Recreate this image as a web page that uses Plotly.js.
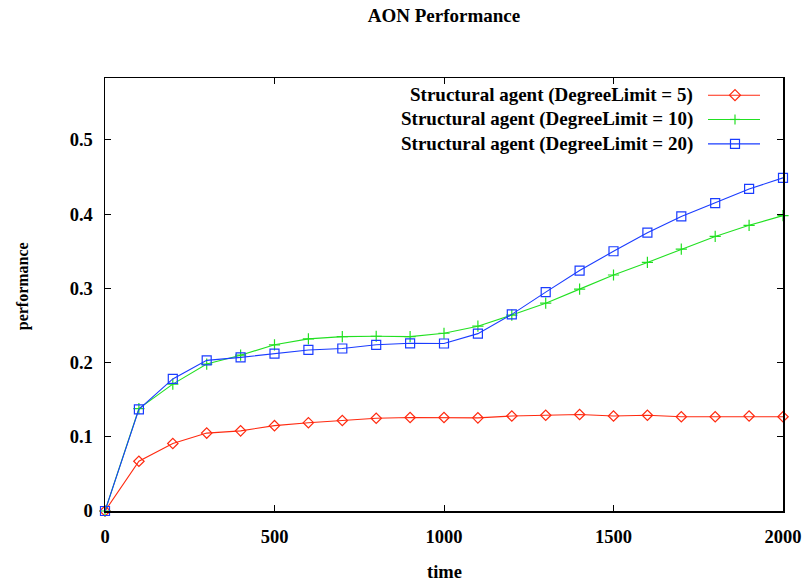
<!DOCTYPE html>
<html>
<head>
<meta charset="utf-8">
<script src="https://cdn.plot.ly/plotly-3.0.1.min.js"></script>
<style>html,body{margin:0;padding:0;background:#fff;}#chart{width:807px;height:581px;}</style>
</head>
<body>
<div id="chart"></div>
<script>
const time = [0,100,200,300,400,500,600,700,800,900,1000,1100,1200,1300,1400,1500,1600,1700,1800,1900,2000];
const perfLimit5 = [0,0.067,0.091,0.105,0.108,0.115,0.119,0.122,0.125,0.126,0.126,0.1255,0.128,0.129,0.130,0.128,0.129,0.127,0.127,0.128,0.127];
const perfLimit10 = [0,0.138,0.171,0.198,0.210,0.224,0.232,0.235,0.2355,0.235,0.2395,0.249,0.264,0.280,0.299,0.318,0.335,0.353,0.370,0.385,0.398];
const perfLimit20 = [0,0.137,0.178,0.203,0.207,0.212,0.217,0.219,0.224,0.226,0.2257,0.239,0.265,0.295,0.324,0.350,0.375,0.397,0.415,0.434,0.449];
const seriesNames = ["Structural agent (DegreeLimit = 5)","Structural agent (DegreeLimit = 10)","Structural agent (DegreeLimit = 20)"];
const seriesColors = ["#ff2a10","#22e022","#1a3cff"];
const xTicks = [0,500,1000,1500,2000];
const yTicks = [0,0.1,0.2,0.3,0.4,0.5];
const yTickText = ["0","0.1","0.2","0.3","0.4","0.5"];

const font = "'Liberation Serif','Times New Roman',serif";
const symbols = ["diamond-open","cross-thin-open","square-open"];
const sizes = [8,8,9];
const ys = [perfLimit5, perfLimit10, perfLimit20];

// plot-area pixel geometry (for legend placement only)
const L = 105, R = 783, T = 77.5, B = 511;
const px = v => (v - L) / (R - L);
const py = v => (B - v) / (B - T);

const traces = ys.map((y,i)=>({
  x: time, y: y, type:'scatter', mode:'lines+markers',
  name: seriesNames[i], showlegend:false,
  line:{color:seriesColors[i], width:1.1},
  marker:{symbol:symbols[i], size:sizes[i], color:seriesColors[i], line:{width:1.2, color:seriesColors[i]}},
  cliponaxis:false
}));

const rowY = [94.7, 119, 143.5];
const annotations = seriesNames.map((n,i)=>({
  xref:'paper', yref:'paper', x:px(695), y:py(rowY[i]),
  xanchor:'right', yanchor:'middle', showarrow:false, text:'<b>'+n+'</b>',
  font:{family:font, size:19, color:'#000'}
}));
annotations.push({
  xref:'paper', yref:'paper', x:px(444), y:py(572), xanchor:'center', yanchor:'middle', showarrow:false,
  text:'<b>time</b>', font:{family:font, size:18.5, color:'#000'}
});
annotations.push({
  xref:'paper', yref:'paper', x:px(23), y:py(286), xanchor:'center', yanchor:'middle', showarrow:false,
  textangle:-90, text:'<b>performance</b>', font:{family:font, size:16, color:'#000'}
});

const shapes = [];
rowY.forEach((yy,i)=>{
  const c = seriesColors[i];
  shapes.push({type:'line', xref:'paper', yref:'paper', x0:px(708), x1:px(760), y0:py(yy), y1:py(yy), line:{color:c, width:1.1}});
  const cx = 735;
  if (i === 0) {
    const h = 5.5;
    shapes.push({type:'path', xref:'paper', yref:'paper',
      path:`M${px(cx-h)},${py(yy)} L${px(cx)},${py(yy-h)} L${px(cx+h)},${py(yy)} L${px(cx)},${py(yy+h)} Z`,
      line:{color:c, width:1.2}, fillcolor:'rgba(0,0,0,0)'});
  } else if (i === 1) {
    const h = 5;
    shapes.push({type:'line', xref:'paper', yref:'paper', x0:px(cx), x1:px(cx), y0:py(yy-h), y1:py(yy+h), line:{color:c, width:1.2}});
    shapes.push({type:'line', xref:'paper', yref:'paper', x0:px(cx-h), x1:px(cx+h), y0:py(yy), y1:py(yy), line:{color:c, width:1.2}});
  } else {
    const h = 4.5;
    shapes.push({type:'rect', xref:'paper', yref:'paper', x0:px(cx-h), x1:px(cx+h), y0:py(yy-h), y1:py(yy+h), line:{color:c, width:1.2}, fillcolor:'rgba(0,0,0,0)'});
  }
});

const axisCommon = {
  showline:true, linecolor:'#000', linewidth:1.5, mirror:'ticks',
  ticks:'inside', ticklen:6, tickwidth:1, tickcolor:'#000',
  showgrid:false, zeroline:false,
  tickfont:{family:font, size:18.5, color:'#000'}
};

const layout = {
  width:807, height:581,
  margin:{l:L, r:807-R, t:T, b:581-B},
  paper_bgcolor:'#fff', plot_bgcolor:'#fff',
  title:{text:'<b>AON Performance</b>', xref:'paper', x:0.5, xanchor:'center', yref:'container', y:1-15/581, yanchor:'middle', font:{family:font, size:19, color:'#000'}},
  xaxis:Object.assign({}, axisCommon, {
    range:[0,2000], tickvals:xTicks, ticktext:xTicks.map(s=>'<b>'+s+'</b>'), ticklabelstandoff:8
  }),
  yaxis:Object.assign({}, axisCommon, {
    range:[0,0.5835], tickvals:yTicks, ticktext:yTickText.map(s=>'<b>'+s+'</b>'), ticklabelstandoff:7
  }),
  showlegend:false,
  annotations: annotations,
  shapes: shapes
};

Plotly.newPlot('chart', traces, layout, {displayModeBar:false, staticPlot:true});
</script>
</body>
</html>
